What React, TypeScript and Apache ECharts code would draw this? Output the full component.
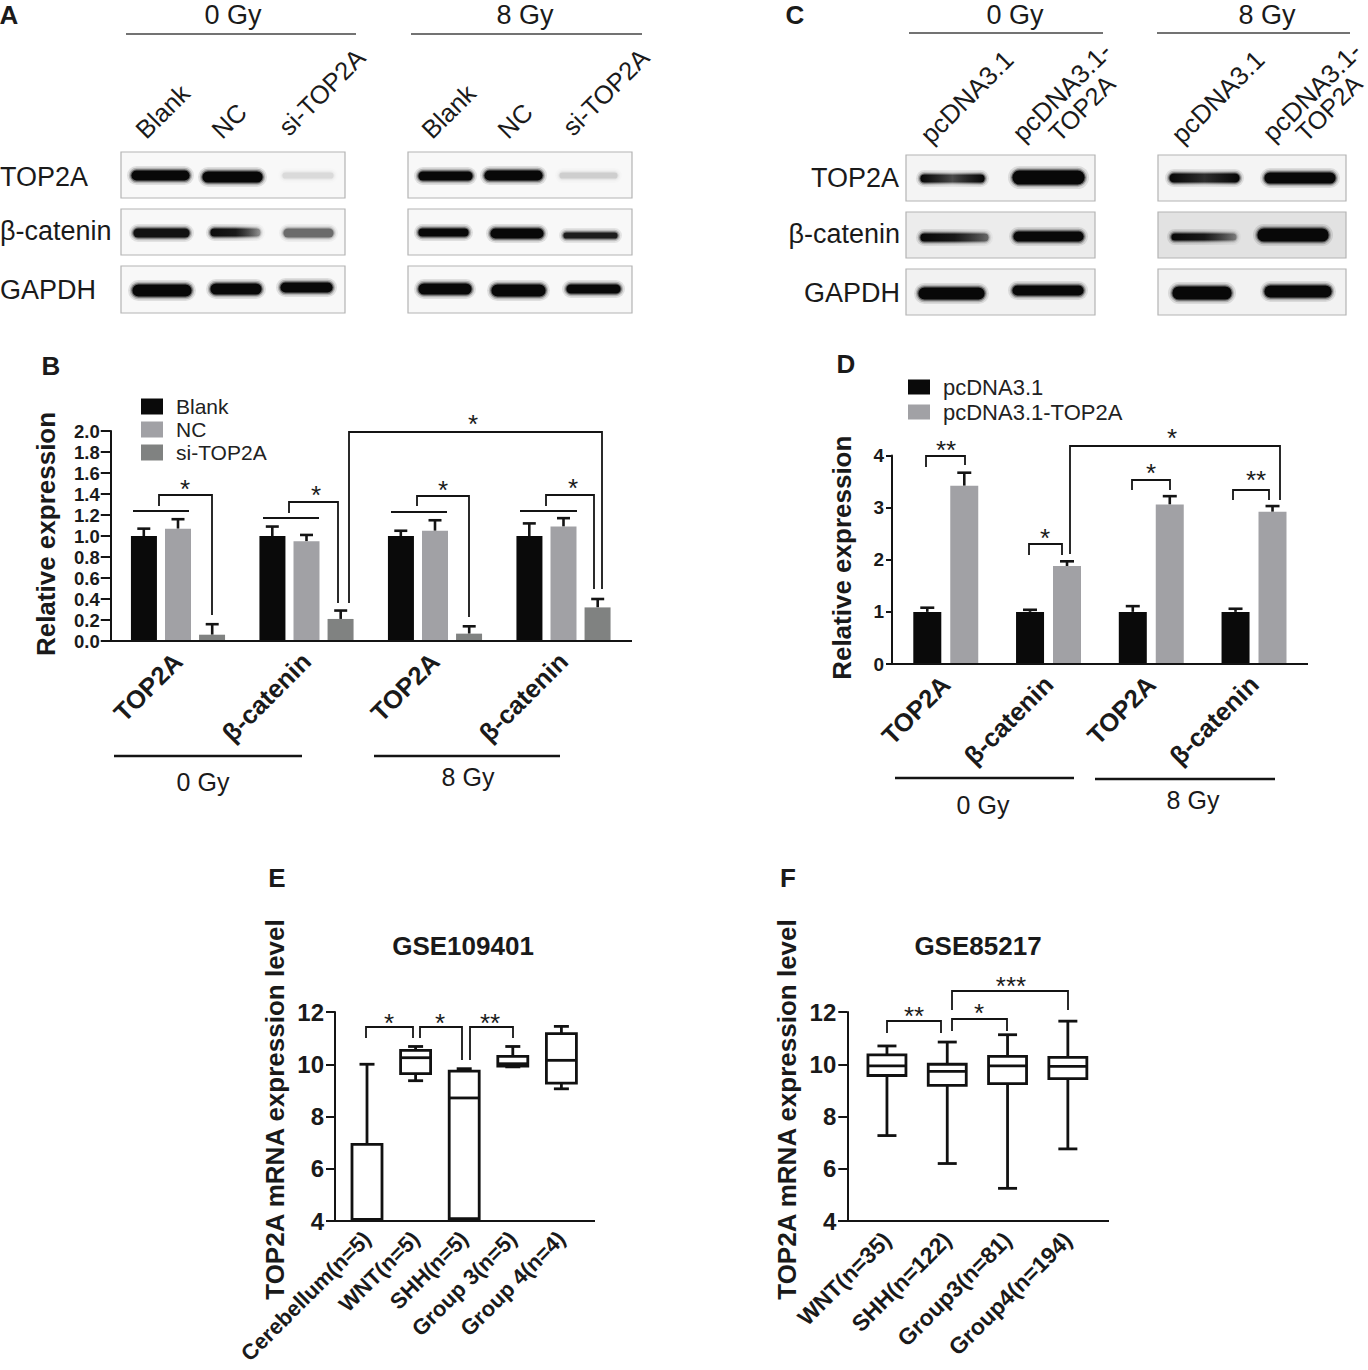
import React, { useEffect, useRef } from "react";
import * as echarts from "echarts";

// ---------- data ----------
const groupsBD = ["TOP2A", "β-catenin", "TOP2A", "β-catenin"];
const yTicksB = ["0.0", "0.2", "0.4", "0.6", "0.8", "1.0", "1.2", "1.4", "1.6", "1.8", "2.0"];
const blankValues = [1.0, 1.0, 1.0, 1.0];
const blankTops = [1.07, 1.09, 1.05, 1.12];
const ncValues = [1.07, 0.95, 1.05, 1.09];
const ncTops = [1.16, 1.01, 1.15, 1.17];
const siValues = [0.06, 0.21, 0.07, 0.32];
const siTops = [0.16, 0.29, 0.14, 0.4];

const pcValues = [1.0, 1.0, 1.0, 1.0];
const pcTops = [1.08, 1.04, 1.11, 1.06];
const pcTopValues = [3.42, 1.88, 3.06, 2.92];
const pcTopTops = [3.67, 1.97, 3.22, 3.03];

const catE = ["Cerebellum(n=5)", "WNT(n=5)", "SHH(n=5)", "Group 3(n=5)", "Group 4(n=4)"];
// low, q1, median, q3, high
const boxCerebellum = [4.05, 4.05, 4.06, 6.93, 10.0];
const boxWntE = [9.37, 9.64, 10.25, 10.53, 10.68];
const boxShhE = [4.05, 4.09, 8.71, 9.74, 9.83];
const boxG3E = [9.9, 9.93, 10.02, 10.3, 10.68];
const boxG4E = [9.06, 9.28, 10.15, 11.17, 11.45];

const catF = ["WNT(n=35)", "SHH(n=122)", "Group3(n=81)", "Group4(n=194)"];
const boxWntF = [7.27, 9.57, 9.94, 10.36, 10.7];
const boxShhF = [6.2, 9.19, 9.73, 10.0, 10.85];
const boxG3F = [5.25, 9.26, 9.94, 10.3, 11.13];
const boxG4F = [6.76, 9.45, 9.92, 10.26, 11.65];

// ---------- helpers ----------
const FONT = "'Liberation Sans', Arial, sans-serif";
const INK = "#141414";
const Z = 10;

const txt = (text: string, x: number, y: number, size: number, opt: any = {}) => ({
  type: "text",
  x,
  y,
  z: Z,
  rotation: opt.rot ?? 0,
  scaleX: opt.sx ?? 1,
  silent: true,
  style: {
    text,
    fontFamily: FONT,
    fontSize: size,
    fontWeight: opt.bold ? "bold" : "normal",
    fill: opt.color ?? "#1a1a1a",
    align: opt.align ?? "center",
    verticalAlign: "middle",
  },
});
const seg = (x1: number, y1: number, x2: number, y2: number, lw = 2, c = INK) => ({
  type: "line",
  z: Z,
  silent: true,
  shape: { x1, y1, x2, y2 },
  style: { stroke: c, lineWidth: lw },
});
const bracket = (pts: number[][], lw = 1.8) => ({
  type: "polyline",
  z: Z,
  silent: true,
  shape: { points: pts },
  style: { stroke: INK, lineWidth: lw, fill: "none" },
});
const star = (s: string, x: number, y: number) => txt(s, x, y + 3.5, 26);

const band = (x0: number, x1: number, y0: number, y1: number, a = 1, fade?: number[]) => {
  const grad = (k: number) =>
    new echarts.graphic.LinearGradient(
      0, 0, 1, 0,
      fade!.map((v, i) => ({ offset: i / (fade!.length - 1), color: `rgba(8,8,8,${v * k})` }))
    );
  const w = x1 - x0;
  const h = y1 - y0;
  const rect = (grow: number, k: number) => ({
    type: "rect",
    z: Z,
    silent: true,
    shape: { x: x0 - grow, y: y0 - grow, width: w + 2 * grow, height: h + 2 * grow, r: h / 2 + grow },
    style: { fill: fade ? grad(k) : `rgba(8,8,8,${a * k})` },
  });
  return { type: "group", z: Z, silent: true, children: [rect(4, 0.1), rect(2.2, 0.2), rect(0.8, 0.45), rect(-0.4, 1)] };
};
const box = (x0: number, x1: number, y0: number, y1: number, fill = "#f8f8f8") => ({
  type: "rect",
  z: Z - 1,
  silent: true,
  shape: { x: x0, y: y0, width: x1 - x0, height: y1 - y0 },
  style: { fill, stroke: "#b4b4b4", lineWidth: 1.2 },
});

const errorRender = (offset: number, capW: number) => (_: any, api: any) => {
  const [cx, yTop] = api.coord([api.value(0), api.value(1)]);
  const [, yBase] = api.coord([api.value(0), api.value(2)]);
  const x = cx + offset;
  return {
    type: "group",
    children: [
      { type: "line", shape: { x1: x, y1: yBase, x2: x, y2: yTop }, style: { stroke: INK, lineWidth: 2.6 } },
      { type: "line", shape: { x1: x - capW / 2, y1: yTop, x2: x + capW / 2, y2: yTop }, style: { stroke: INK, lineWidth: 2.6 } },
    ],
  };
};
const boxRender = (boxW: number, capW: number, lw: number) => (_: any, api: any) => {
  const i = api.value(0);
  const [x, yLow] = api.coord([i, api.value(1)]);
  const [, yQ1] = api.coord([i, api.value(2)]);
  const [, yMed] = api.coord([i, api.value(3)]);
  const [, yQ3] = api.coord([i, api.value(4)]);
  const [, yHigh] = api.coord([i, api.value(5)]);
  const st = { stroke: "#111", lineWidth: lw, fill: "none" };
  const l = (x1: number, y1: number, x2: number, y2: number) => ({ type: "line", shape: { x1, y1, x2, y2 }, style: st });
  return {
    type: "group",
    children: [
      l(x, yHigh, x, yQ3),
      l(x, yQ1, x, yLow),
      l(x - capW / 2, yHigh, x + capW / 2, yHigh),
      l(x - capW / 2, yLow, x + capW / 2, yLow),
      { type: "rect", shape: { x: x - boxW / 2, y: yQ3, width: boxW, height: yQ1 - yQ3 }, style: { ...st, fill: "#fff" } },
      l(x - boxW / 2, yMed, x + boxW / 2, yMed),
    ],
  };
};

const barSeries = (name: string, values: number[], color: string, gridIdx: number, width: number, gap: string) => ({
  type: "bar",
  name,
  data: values,
  xAxisIndex: gridIdx,
  yAxisIndex: gridIdx,
  barWidth: width,
  barGap: gap,
  itemStyle: { color },
});
const errSeries = (tops: number[], values: number[], gridIdx: number, offset: number, cap: number) => ({
  type: "custom",
  xAxisIndex: gridIdx,
  yAxisIndex: gridIdx,
  clip: false,
  z: 1,
  encode: { x: 0, y: [1, 2] },
  data: tops.map((t, i) => [i, t, values[i]]),
  renderItem: errorRender(offset, cap),
});
const boxSeries = (rows: number[][], gridIdx: number, w: number, cap: number) => ({
  type: "custom",
  xAxisIndex: gridIdx,
  yAxisIndex: gridIdx,
  clip: false,
  encode: { x: 0, y: [1, 2, 3, 4, 5] },
  data: rows.map((r, i) => [i, ...r]),
  renderItem: boxRender(w, cap, 2.8),
});

const xAxisBase = (gridIndex: number, data: string[], size: number, tick: number, margin: number) => ({
  type: "category",
  gridIndex,
  data,
  axisLine: { lineStyle: { color: INK, width: 2 } },
  axisTick: { alignWithLabel: true, length: tick, lineStyle: { color: INK, width: 2 } },
  axisLabel: { rotate: 45, interval: 0, margin, fontFamily: FONT, fontWeight: "bold", fontSize: size, color: "#1a1a1a" },
});
const yAxisBase = (gridIndex: number, o: any) => ({
  type: "value",
  gridIndex,
  min: o.min,
  max: o.max,
  interval: o.interval,
  offset: o.offset,
  name: o.name,
  nameLocation: "middle",
  nameGap: o.nameGap,
  nameTextStyle: { fontFamily: FONT, fontWeight: "bold", fontSize: o.nameSize, color: "#1a1a1a", padding: o.namePad ?? 0 },
  splitLine: { show: false },
  axisLine: { show: true, lineStyle: { color: INK, width: 2 } },
  axisTick: { show: true, length: o.tick, lineStyle: { color: INK, width: 2 } },
  axisLabel: {
    margin: o.margin,
    fontFamily: FONT,
    fontWeight: "bold",
    fontSize: o.size,
    color: "#1a1a1a",
    formatter: o.fmt,
  },
});

const legendBase = (data: string[], left: number, top: number, w: number, h: number, gap: number, pad: number, size: number) => ({
  data,
  orient: "vertical",
  left,
  top,
  padding: 0,
  itemWidth: w,
  itemHeight: h,
  itemGap: gap,
  icon: "rect",
  selectedMode: false,
  textStyle: { fontFamily: FONT, fontSize: size, color: "#222", padding: [0, 0, 0, pad] },
});

// ---------- blots ----------
const blotGraphics = () => [
  // panel A
  txt("A", 9, 15, 26, { bold: true }),
  txt("0 Gy", 233, 15, 27),
  txt("8 Gy", 525, 15, 27),
  seg(126, 34, 356, 34, 1.4, "#444"),
  seg(411, 34, 642, 34, 1.4, "#444"),
  ...([
    ["Blank", 140, 134], ["NC", 216, 134], ["si-TOP2A", 283, 131],
    ["Blank", 426, 134], ["NC", 502, 134], ["si-TOP2A", 567, 131],
  ] as [string, number, number][]).map(([s, x, y]) => txt(s, x, y, 25.5, { rot: Math.PI / 4, align: "left" })),
  txt("TOP2A", 0, 177, 27, { align: "left" }),
  txt("β-catenin", 0, 231, 27, { align: "left" }),
  txt("GAPDH", 0, 290, 27, { align: "left" }),
  box(121, 345, 152, 198), box(121, 345, 209, 255), box(121, 345, 266, 313),
  box(408, 632, 152, 198), box(408, 632, 209, 255), box(408, 632, 266, 313),
  band(131, 190, 170, 181), band(202, 263, 171, 183), band(282, 334, 172, 179, 0.07),
  band(133, 190, 228, 238, 0.9), band(210, 261, 228, 237, 1, [0.95, 0.85, 0.25]), band(283, 334, 228, 238, 0.42),
  band(132, 192, 284, 297), band(210, 262, 283, 295), band(280, 333, 282, 293),
  band(418, 473, 171, 181), band(484, 543, 170, 181), band(559, 618, 172, 179, 0.1),
  band(418, 469, 228, 237), band(490, 544, 228, 239), band(563, 618, 232, 239, 0.82),
  band(418, 472, 283, 295), band(491, 546, 284, 297), band(566, 621, 284, 294),

  // panel C
  txt("C", 795, 15, 26, { bold: true }),
  txt("0 Gy", 1015, 15, 27),
  txt("8 Gy", 1267, 15, 27),
  seg(909, 33, 1103, 33, 1.4, "#444"),
  seg(1157, 33, 1350, 33, 1.4, "#444"),
  ...([
    ["pcDNA3.1", 925, 139], ["pcDNA3.1-", 1017, 137], ["TOP2A", 1053, 137],
    ["pcDNA3.1", 1176, 139], ["pcDNA3.1-", 1267, 137], ["TOP2A", 1300, 137],
  ] as [string, number, number][]).map(([s, x, y]) => txt(s, x, y, s === "TOP2A" ? 25 : 26, { rot: Math.PI / 4, align: "left" })),
  txt("TOP2A", 899, 178, 27, { align: "right" }),
  txt("β-catenin", 900, 234, 27, { align: "right" }),
  txt("GAPDH", 900, 293, 27, { align: "right" }),
  box(906, 1095, 155, 201, "#f4f4f4"), box(906, 1095, 212, 258, "#ececec"), box(906, 1095, 269, 315, "#f2f2f2"),
  box(1158, 1346, 155, 201, "#f4f4f4"), box(1158, 1346, 212, 258, "#e2e2e2"), box(1158, 1346, 269, 315, "#f2f2f2"),
  band(920, 985, 174, 183, 1, [1, 0.55, 1]), band(1012, 1085, 170, 185),
  band(920, 989, 233, 242, 1, [1, 0.85, 0.4]), band(1013, 1084, 231, 242),
  band(918, 985, 287, 300), band(1012, 1084, 285, 296),
  band(1169, 1240, 173, 183, 1, [1, 0.7, 1]), band(1264, 1336, 172, 184),
  band(1171, 1237, 233, 241, 1, [1, 0.85, 0.3]), band(1257, 1329, 228, 242),
  band(1172, 1232, 286, 300), band(1264, 1332, 285, 298),
];

// ---------- annotations ----------
const annotationGraphics = () => [
  // panel B
  txt("B", 51, 366, 26, { bold: true }),
  seg(101, 641, 632, 641, 2),
  seg(133, 511, 189, 511), seg(263, 518, 319, 518), seg(391, 512, 447, 512), seg(520, 511, 577, 511),
  bracket([[159, 506], [159, 495], [212, 495], [212, 615]]),
  bracket([[289, 513], [289, 502], [338, 502], [338, 603]]),
  bracket([[417, 506], [417, 496], [469, 496], [469, 617]]),
  bracket([[546, 506], [546, 495], [594, 495], [594, 589]]),
  bracket([[349, 603], [349, 432], [602, 432], [602, 589]]),
  star("*", 185, 485), star("*", 316, 491), star("*", 443, 486), star("*", 573, 484), star("*", 473, 420),
  seg(114, 756, 302, 756, 2.5), seg(374, 756, 560, 756, 2.5),
  txt("0 Gy", 203, 782, 25), txt("8 Gy", 468, 777, 25),

  // panel D
  txt("D", 846, 364, 26, { bold: true }),
  seg(887, 664, 1308, 664, 2),
  bracket([[926, 467], [926, 456], [965, 456], [965, 465]]),
  bracket([[1029, 555], [1029, 544], [1062, 544], [1062, 555]]),
  bracket([[1070, 554], [1070, 446], [1280, 446], [1280, 500]]),
  bracket([[1132, 490], [1132, 480], [1170, 480], [1170, 490]]),
  bracket([[1233, 500], [1233, 490], [1269, 490], [1269, 500]]),
  star("**", 946, 446), star("*", 1045, 534), star("*", 1172, 434), star("*", 1151, 469), star("**", 1256, 476),
  seg(895, 778, 1074, 778, 2.5), seg(1095, 779, 1275, 779, 2.5),
  txt("0 Gy", 983, 805, 25), txt("8 Gy", 1193, 800, 25),

  // panel E
  txt("E", 277, 878, 26, { bold: true }),
  txt("GSE109401", 463, 946, 26, { bold: true }),
  seg(326, 1221, 595, 1221, 2),
  bracket([[366, 1038], [366, 1027], [413, 1027], [413, 1038]]),
  bracket([[420, 1038], [420, 1027], [462, 1027], [462, 1060]]),
  bracket([[470, 1060], [470, 1027], [513, 1027], [513, 1038]]),
  star("*", 389, 1019), star("*", 440, 1019), star("**", 490, 1019),

  // panel F
  txt("F", 788, 878, 26, { bold: true }),
  txt("GSE85217", 978, 946, 26, { bold: true }),
  seg(838, 1221, 1109, 1221, 2),
  bracket([[887, 1033], [887, 1021], [941, 1021], [941, 1033]]),
  bracket([[952, 1031], [952, 1019], [1007, 1019], [1007, 1031]]),
  bracket([[952, 1010], [952, 991], [1068, 991], [1068, 1010]]),
  star("**", 914, 1012), star("*", 979, 1009), star("***", 1011, 982),
];

// ---------- options ----------
const buildOption = () => ({
  animation: false,
  backgroundColor: "#fff",
  grid: [
    { left: 113.75, width: 514, top: 431, height: 210, outerBoundsMode: "none" },
    { left: 894.4, width: 411, top: 455.5, height: 208.5, outerBoundsMode: "none" },
    { left: 342.7, width: 243, top: 1012, height: 209, outerBoundsMode: "none" },
    { left: 856.8, width: 241.2, top: 1012, height: 209, outerBoundsMode: "none" },
  ],
  xAxis: [
    xAxisBase(0, groupsBD, 25.5, 7, 16),
    xAxisBase(1, groupsBD, 25.5, 7, 16),
    xAxisBase(2, catE, 22, 7, 14),
    xAxisBase(3, catF, 23, 7, 15),
  ],
  yAxis: [
    yAxisBase(0, { min: 0, max: 2, interval: 0.2, offset: 3, tick: 10, margin: 11, size: 18.5, name: "Relative expression", nameGap: 52, nameSize: 26, namePad: [0, 0, 0, 4], fmt: (v: number) => yTicksB[Math.round(v / 0.2)] }),
    yAxisBase(1, { min: 0, max: 4, interval: 1, offset: 2.4, tick: 6, margin: 8, size: 19, name: "Relative expression", nameGap: 37, nameSize: 26, namePad: [0, 0, 0, 4] }),
    yAxisBase(2, { min: 4, max: 12, interval: 2, offset: 7.7, tick: 9, margin: 11, size: 24, name: "TOP2A mRNA expression level", nameGap: 47, nameSize: 26, namePad: [0, 0, 0, 14] }),
    yAxisBase(3, { min: 4, max: 12, interval: 2, offset: 9.5, tick: 9, margin: 11, size: 24, name: "TOP2A mRNA expression level", nameGap: 47, nameSize: 26, namePad: [0, 0, 0, 14] }),
  ],
  legend: [
    legendBase(["Blank", "NC", "si-TOP2A"], 141, 396, 22, 16, 2, 8, 21),
    legendBase(["pcDNA3.1", "pcDNA3.1-TOP2A"], 908, 376, 22, 15, 3, 8, 22),
  ],
  series: [
    barSeries("Blank", blankValues, "#0a0a0a", 0, 26, "31%"),
    barSeries("NC", ncValues, "#a1a1a5", 0, 26, "31%"),
    barSeries("si-TOP2A", siValues, "#808281", 0, 26, "31%"),
    errSeries(blankTops, blankValues, 0, -34.2, 13),
    errSeries(ncTops, ncValues, 0, 0, 13),
    errSeries(siTops, siValues, 0, 34.2, 13),
    barSeries("pcDNA3.1", pcValues, "#0a0a0a", 1, 28, "32%"),
    barSeries("pcDNA3.1-TOP2A", pcTopValues, "#a1a1a5", 1, 28, "32%"),
    errSeries(pcTops, pcValues, 1, -18.5, 14),
    errSeries(pcTopTops, pcTopValues, 1, 18.5, 14),
    boxSeries([boxCerebellum, boxWntE, boxShhE, boxG3E, boxG4E], 2, 30, 15),
    boxSeries([boxWntF, boxShhF, boxG3F, boxG4F], 3, 38, 19),
  ],
  graphic: { elements: [...blotGraphics(), ...annotationGraphics()] },
});

export default function App() {
  const ref = useRef<HTMLDivElement>(null);
  useEffect(() => {
    document.body.style.margin = "0";
    document.body.style.background = "#fff";
    const chart = echarts.init(ref.current!, undefined, { renderer: "svg" });
    chart.setOption(buildOption() as any);
    return () => chart.dispose();
  }, []);
  return <div ref={ref} style={{ width: 1368, height: 1370 }} />;
}
